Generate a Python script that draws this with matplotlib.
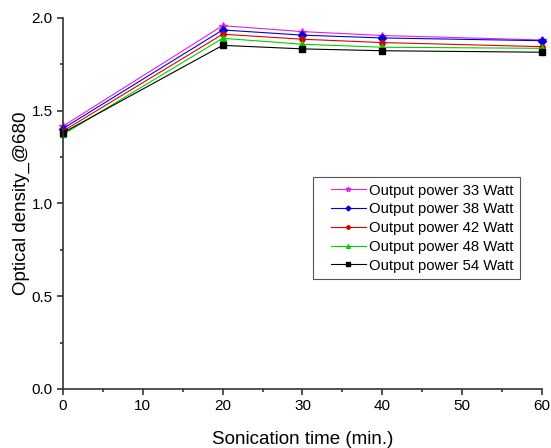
import matplotlib.pyplot as plt
from matplotlib.lines import Line2D
from matplotlib.legend_handler import HandlerLine2D
from matplotlib.ticker import MultipleLocator

plt.rcParams['font.family'] = ['Liberation Sans', 'DejaVu Sans']

# Sonication time (min.)
time = [0, 20, 30, 40, 60]

# Optical density at 680 nm for each output power
od_33 = [1.416, 1.957, 1.925, 1.904, 1.880]
od_38 = [1.403, 1.934, 1.906, 1.891, 1.876]
od_42 = [1.389, 1.911, 1.884, 1.866, 1.844]
od_48 = [1.371, 1.889, 1.857, 1.841, 1.835]
od_54 = [1.380, 1.851, 1.832, 1.822, 1.814]

fig = plt.figure(figsize=(5.51, 4.48), dpi=100)
ax = fig.add_axes([0.1143, 0.1317, 0.8693, 0.8288])

series = [
    (od_33, 'Output power 33 Watt', '#e020e0', '*', 5.5),
    (od_38, 'Output power 38 Watt', '#0000e0', 'D', 3.8),
    (od_42, 'Output power 42 Watt', '#e00000', 'o', 3.8),
    (od_48, 'Output power 48 Watt', '#00d000', '^', 4.2),
    (od_54, 'Output power 54 Watt', '#000000', 's', 3.8),
]
for vals, lab, col, mk, ms in series:
    ax.plot(time, vals, color=col, marker=mk, markersize=ms, linewidth=0.8,
            label=lab, clip_on=False)

ax.set_xlim(0, 60)
ax.set_ylim(0, 2.0)
ax.xaxis.set_major_locator(MultipleLocator(10))
ax.xaxis.set_minor_locator(MultipleLocator(5))
ax.yaxis.set_major_locator(MultipleLocator(0.5))
ax.yaxis.set_minor_locator(MultipleLocator(0.25))
ax.yaxis.set_major_formatter(plt.FormatStrFormatter('%.1f'))

for s in ['top', 'right']:
    ax.spines[s].set_visible(False)
for s in ['left', 'bottom']:
    ax.spines[s].set_linewidth(1.2)
    ax.spines[s].set_color('#333333')
ax.tick_params(which='major', direction='out', length=4.5, width=1.2,
               labelsize=11, colors='#333333', labelcolor='black', pad=3)
ax.tick_params(which='minor', direction='out', length=2.5, width=1.2, colors='#333333')

ax.set_xlabel('Sonication time (min.)', fontsize=13.5, labelpad=13)
ax.set_ylabel('Optical density_@680', fontsize=13.5, labelpad=1)

leg = ax.legend(loc='upper left', bbox_to_anchor=(0.522, 0.571), borderaxespad=0,
                fontsize=10.7, fancybox=False, framealpha=1,
                edgecolor='#555555', handlelength=3.1, borderpad=0.45,
                labelspacing=0.32, handletextpad=0.2, markerscale=0.65,
                handler_map={Line2D: HandlerLine2D(xpad=0.74)})
leg.get_frame().set_linewidth(0.8)

fig.savefig('out.png', dpi=100)
